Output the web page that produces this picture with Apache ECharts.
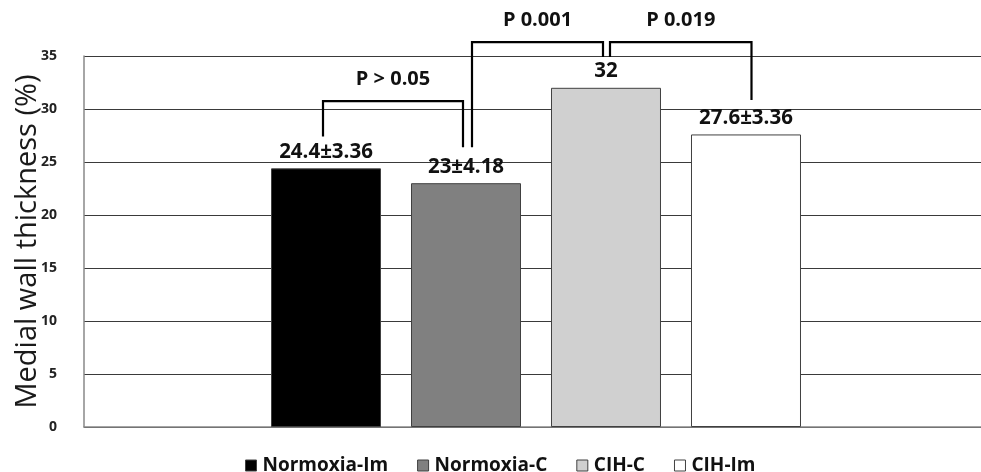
<!DOCTYPE html>
<html>
<head>
<meta charset="utf-8">
<script src="https://cdn.jsdelivr.net/npm/echarts@6/dist/echarts.min.js"></script>
<style>html,body{margin:0;padding:0;background:#fff}#c{width:981px;height:472px}</style>
</head>
<body>
<div id="c"></div>
<script>
// ---- data ----
const groups = ['Normoxia-Im', 'Normoxia-C', 'CIH-C', 'CIH-Im'];
const means = [24.4, 23, 32, 27.6];
const sds = [3.36, 4.18, null, 3.36];
const yTicks = [0, 5, 10, 15, 20, 25, 30, 35];
// significance brackets: [from bar, to bar]
const bracketPairs = [[0, 1], [1, 2], [2, 3]];
const bracketTop = [30.75, 36.3, 36.3];          // value of horizontal line
const bracketLegLeft = [27.4, 26.4, 34.9];       // value where left leg ends
const bracketLegRight = [26.4, 34.9, 30.85];     // value where right leg ends
const bracketLabels = ['P > 0.05', 'P 0.001', 'P 0.019'];

// ---- style ----
const colors = ['#000000', '#808080', '#d0d0d0', '#ffffff'];
const legOffsets = [[-3, -3], [6, -3], [4, 5.5]];  // px shift of legs from bar centre
const FONT = 'Open Sans';

const chart = echarts.init(document.getElementById('c'), null, {renderer: 'canvas'});

const series = groups.map((g, i) => ({
  name: g,
  type: 'bar',
  data: [means[i]],
  barWidth: 110,
  barGap: '27.27%',
  itemStyle: {color: colors[i], borderColor: '#404040', borderWidth: 1},
  label: {
    show: true,
    position: 'top',
    distance: 6,
    fontFamily: FONT,
    fontWeight: 'bold',
    fontSize: 20.5,
    color: '#111',
    formatter: () => sds[i] == null ? String(means[i]) : means[i] + '±' + sds[i]
  },
  z: 2
}));

chart.setOption({
  animation: false,
  backgroundColor: '#fff',
  grid: {left: 84, right: -7, top: 56, bottom: 45, outerBoundsMode: 'none', containLabel: false},
  legend: {
    data: groups,
    top: 451,
    left: 240,
    icon: 'rect',
    itemWidth: 11,
    itemHeight: 11,
    itemGap: 29,
    textStyle: {fontFamily: FONT, fontWeight: 'bold', fontSize: 19, color: '#111', padding: [0, 0, 0, 1]},
    itemStyle: {borderColor: '#404040', borderWidth: 1}
  },
  xAxis: {
    type: 'category',
    data: [''],
    axisTick: {show: false},
    axisLabel: {show: false},
    axisLine: {lineStyle: {color: '#888', width: 1.5}}
  },
  yAxis: {
    type: 'value',
    min: yTicks[0],
    max: yTicks[yTicks.length - 1],
    interval: yTicks[1] - yTicks[0],
    name: 'Medial wall thickness (%)',
    nameLocation: 'middle',
    nameGap: 42,
    nameMoveOverlap: false,
    nameTextStyle: {fontFamily: FONT, fontSize: 29, color: '#1a1a1a'},
    axisLine: {show: true, lineStyle: {color: '#888', width: 1.5}},
    axisTick: {show: false},
    axisLabel: {fontFamily: FONT, fontWeight: 'bold', fontSize: 14, color: '#222', margin: 27},
    splitLine: {lineStyle: {color: '#3a3a3a', width: 1}}
  },
  series: series
});

// ---- brackets drawn from bar layouts and the y scale ----
function drawBrackets() {
  const model = chart.getModel();
  const centres = groups.map((g, i) => {
    const lay = model.getSeriesByIndex(i).getData().getItemLayout(0);
    return lay.x + lay.width / 2;
  });
  const py = v => chart.convertToPixel({yAxisIndex: 0}, v);
  const els = [];
  bracketPairs.forEach((p, k) => {
    const x1 = centres[p[0]] + legOffsets[k][0];
    const x2 = centres[p[1]] + legOffsets[k][1];
    const yt = py(bracketTop[k]);
    els.push({
      type: 'polyline',
      shape: {points: [[x1, py(bracketLegLeft[k])], [x1, yt], [x2, yt], [x2, py(bracketLegRight[k])]]},
      style: {stroke: '#000', lineWidth: 2.2, fill: null},
      z: 10
    });
    els.push({
      type: 'text',
      x: (x1 + x2) / 2,
      y: yt - 22,
      style: {
        text: bracketLabels[k],
        fontFamily: FONT, fontWeight: 'bold', fontSize: 20, fill: '#111',
        align: 'center', verticalAlign: 'middle'
      },
      z: 10
    });
  });
  chart.setOption({graphic: els});
}
drawBrackets();
</script>
</body>
</html>
